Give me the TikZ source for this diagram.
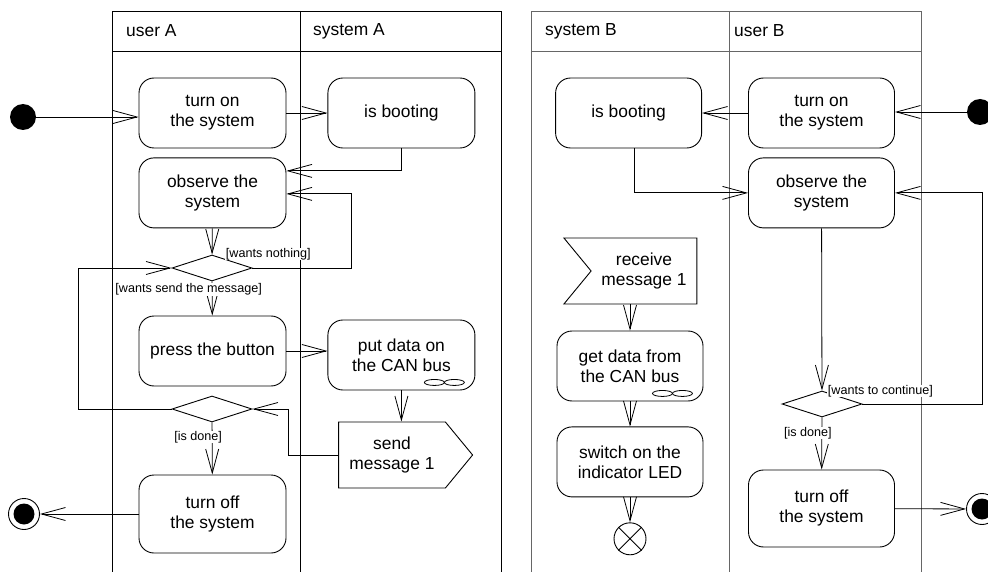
\documentclass[tikz,border=0pt]{standalone}
\usepackage{fontspec}
\setmainfont{Liberation Sans}
\usetikzlibrary{arrows.meta, positioning, shapes.geometric, shapes.symbols}

\begin{document}
\begin{tikzpicture}[
            x=1pt, y=-1pt,
            act/.style={draw, line width=0.9pt, rounded corners=15pt,
                        minimum width=147pt, minimum height=70pt, inner sep=2pt,
                        align=center, font=\fontsize{17.4}{20}\selectfont},
            decision/.style={draw, line width=0.9pt, diamond, minimum width=80pt,
                             minimum height=26pt, inner sep=0pt},
            initial/.style={circle, fill=black, minimum size=26pt, inner sep=0pt},
            final/.style={circle, draw, line width=0.9pt, minimum size=31pt,
                          inner sep=0pt, path picture={
                            \fill (path picture bounding box.center) circle (10.5pt);}},
            flowfinal/.style={circle, draw, line width=0.9pt, minimum size=32pt,
                              inner sep=0pt},
            sendsig/.style={draw, line width=0.9pt, signal, signal to=east,
                            signal pointer angle=101, minimum width=134pt,
                            minimum height=66pt, inner sep=2pt, align=center,
                            font=\fontsize{17.4}{20}\selectfont},
            recvsig/.style={sendsig, signal to=nowhere, signal from=west},
            flow/.style={-{Straight Barb[length=24pt, width=13pt]}, line width=0.8pt},
            guard/.style={fill=white, inner sep=0.5pt,
                          font=\fontsize{12.6}{14}\selectfont},
            lane/.style={line width=0.8pt},
            laneB/.style={lane, draw=black!60},
            lanetitle/.style={anchor=west, inner sep=0pt,
                              font=\fontsize{17.4}{20}\selectfont}]

            \useasboundingbox (0,0) rectangle (988,572);

            %% -- Swimlanes -------------------------------------------------
            \draw[lane] (112,572) -- (112,11) -- (501,11) -- (501,572);
            \draw[lane] (300,11) -- (300,572) (112,51) -- (501,51);
            \node[lanetitle] (laneUA) at (126,31) {user A};
            \node[lanetitle] (laneSA) at (313,31) {system A};

            \draw[laneB] (531,572) -- (531,11) -- (921,11) -- (921,572);
            \draw[laneB] (729,11) -- (729,572) (531,51) -- (921,51);
            \node[lanetitle] (laneSB) at (545,31) {system B};
            \node[lanetitle] (laneUB) at (734,31) {user B};

            %% -- Nodes, side A ---------------------------------------------
            \node[initial]                         (iniA)   at (23,117) {};
            \node[act]                             (onA)    at (212.5,113)
                                                   {turn on\\the system};
            \node[act, right=41pt of onA]          (bootA)  {is booting};
            \node[act, below=9pt of onA]           (obsA)   {observe the\\system};
            \node[decision]                        (dec1)   at (212,268) {};
            \node[act]                             (pressA) at (212.5,351)
                                                   {press the button};
            \node[act, right=41pt of pressA, yshift=-4pt]
                                                   (putA)   {put data on\\the CAN bus};
            \node[sendsig]                         (sendA)  at (392,455)
                                                   {send\\message 1};
            \node[decision]                        (dec2)   at (212,409) {};
            \node[act, minimum height=78pt]        (offA)   at (212.5,514)
                                                   {turn off\\the system};
            \node[final]                           (finA)   at (24,514) {};

            %% -- Nodes, side B ---------------------------------------------
            \node[initial]                         (iniB)   at (980,112) {};
            \node[act, minimum width=146pt]        (onB)    at (821.5,113)
                                                   {turn on\\the system};
            \node[act, minimum width=146pt, left=46pt of onB]
                                                   (bootB)  {is booting};
            \node[act, minimum width=146pt, below=9pt of onB]
                                                   (obsB)   {observe the\\system};
            \node[recvsig, minimum width=133pt]    (recvB)  at (644,271)
                                                   {receive\\message 1};
            \node[act, minimum width=146pt]        (getB)   at (630,366)
                                                   {get data from\\the CAN bus};
            \node[act, minimum width=146pt, below=25pt of getB]
                                                   (ledB)   {switch on the\\indicator LED};
            \node[flowfinal, below=25pt of ledB]   (endB)   {};
            \node[decision]                        (decB)   at (822,404) {};
            \node[act, minimum width=146pt, minimum height=77pt]
                                                   (offB)   at (821.5,508.5)
                                                   {turn off\\the system};
            \node[final]                           (finB)   at (982,509) {};

            %% -- Decorations -------------------------------------------------
            \draw[line width=0.9pt] (endB.north west) -- (endB.south east)
                                    (endB.north east) -- (endB.south west);
            \foreach \n in {putA, getB} {
                \draw[line width=0.8pt] ([shift={(-41,-8)}]\n.south east)
                    ellipse [x radius=10pt, y radius=3pt];
                \draw[line width=0.8pt] ([shift={(-21,-8)}]\n.south east)
                    ellipse [x radius=10pt, y radius=3pt];
            }

            %% -- Flows, side A -----------------------------------------------
            \draw[flow] (iniA.east) -- (iniA -| onA.west);
            \draw[flow] (onA) -- (bootA);
            \draw[flow] (bootA.south) |- ([yshift=22pt]obsA.east);
            \draw[flow] (obsA) -- (dec1);
            \draw[flow] (dec1.east) --
                node[guard, pos=.16, yshift=14pt]{[wants nothing]}
                ++(99,0) |- ([yshift=-1pt]obsA.east);
            \draw[flow] (dec1) --
                node[guard, pos=.23, xshift=-23.5pt]{[wants send the message]} (pressA);
            \draw[flow] (pressA.east) -- (pressA.east -| putA.west);
            \draw[flow] (putA.south) -- (putA.south |- sendA.north);
            \draw[flow] (sendA.west) -- ++(-50,0) |- (dec2.east);
            \draw[flow] (dec2.west) -- ++(-93,0) |- (dec1.west);
            \draw[flow] (dec2) --
                node[guard, pos=.28, xshift=-14pt]{[is done]} (offA);
            \draw[flow] (offA) -- (finA);

            %% -- Flows, side B -----------------------------------------------
            \draw[flow] (iniB) -- (iniB -| onB.east);
            \draw[flow] (onB) -- (bootB);
            \draw[flow] ([xshift=6pt]bootB.south) |- (obsB.west);
            \draw[flow] (obsB) -- (decB);
            \draw[flow] (decB.east) --
                node[guard, pos=.15, yshift=13pt]{[wants to continue]}
                ++(120,0) |- (obsB.east);
            \draw[flow] (decB) --
                node[guard, pos=.3, xshift=-14pt]{[is done]} (offB);
            \draw[flow] (offB) -- (finB);
            \draw[flow] (getB.north |- recvB.south) -- (getB.north);
            \draw[flow] (getB) -- (ledB);
            \draw[flow] (ledB) -- (endB);

        \end{tikzpicture}
\end{document}
